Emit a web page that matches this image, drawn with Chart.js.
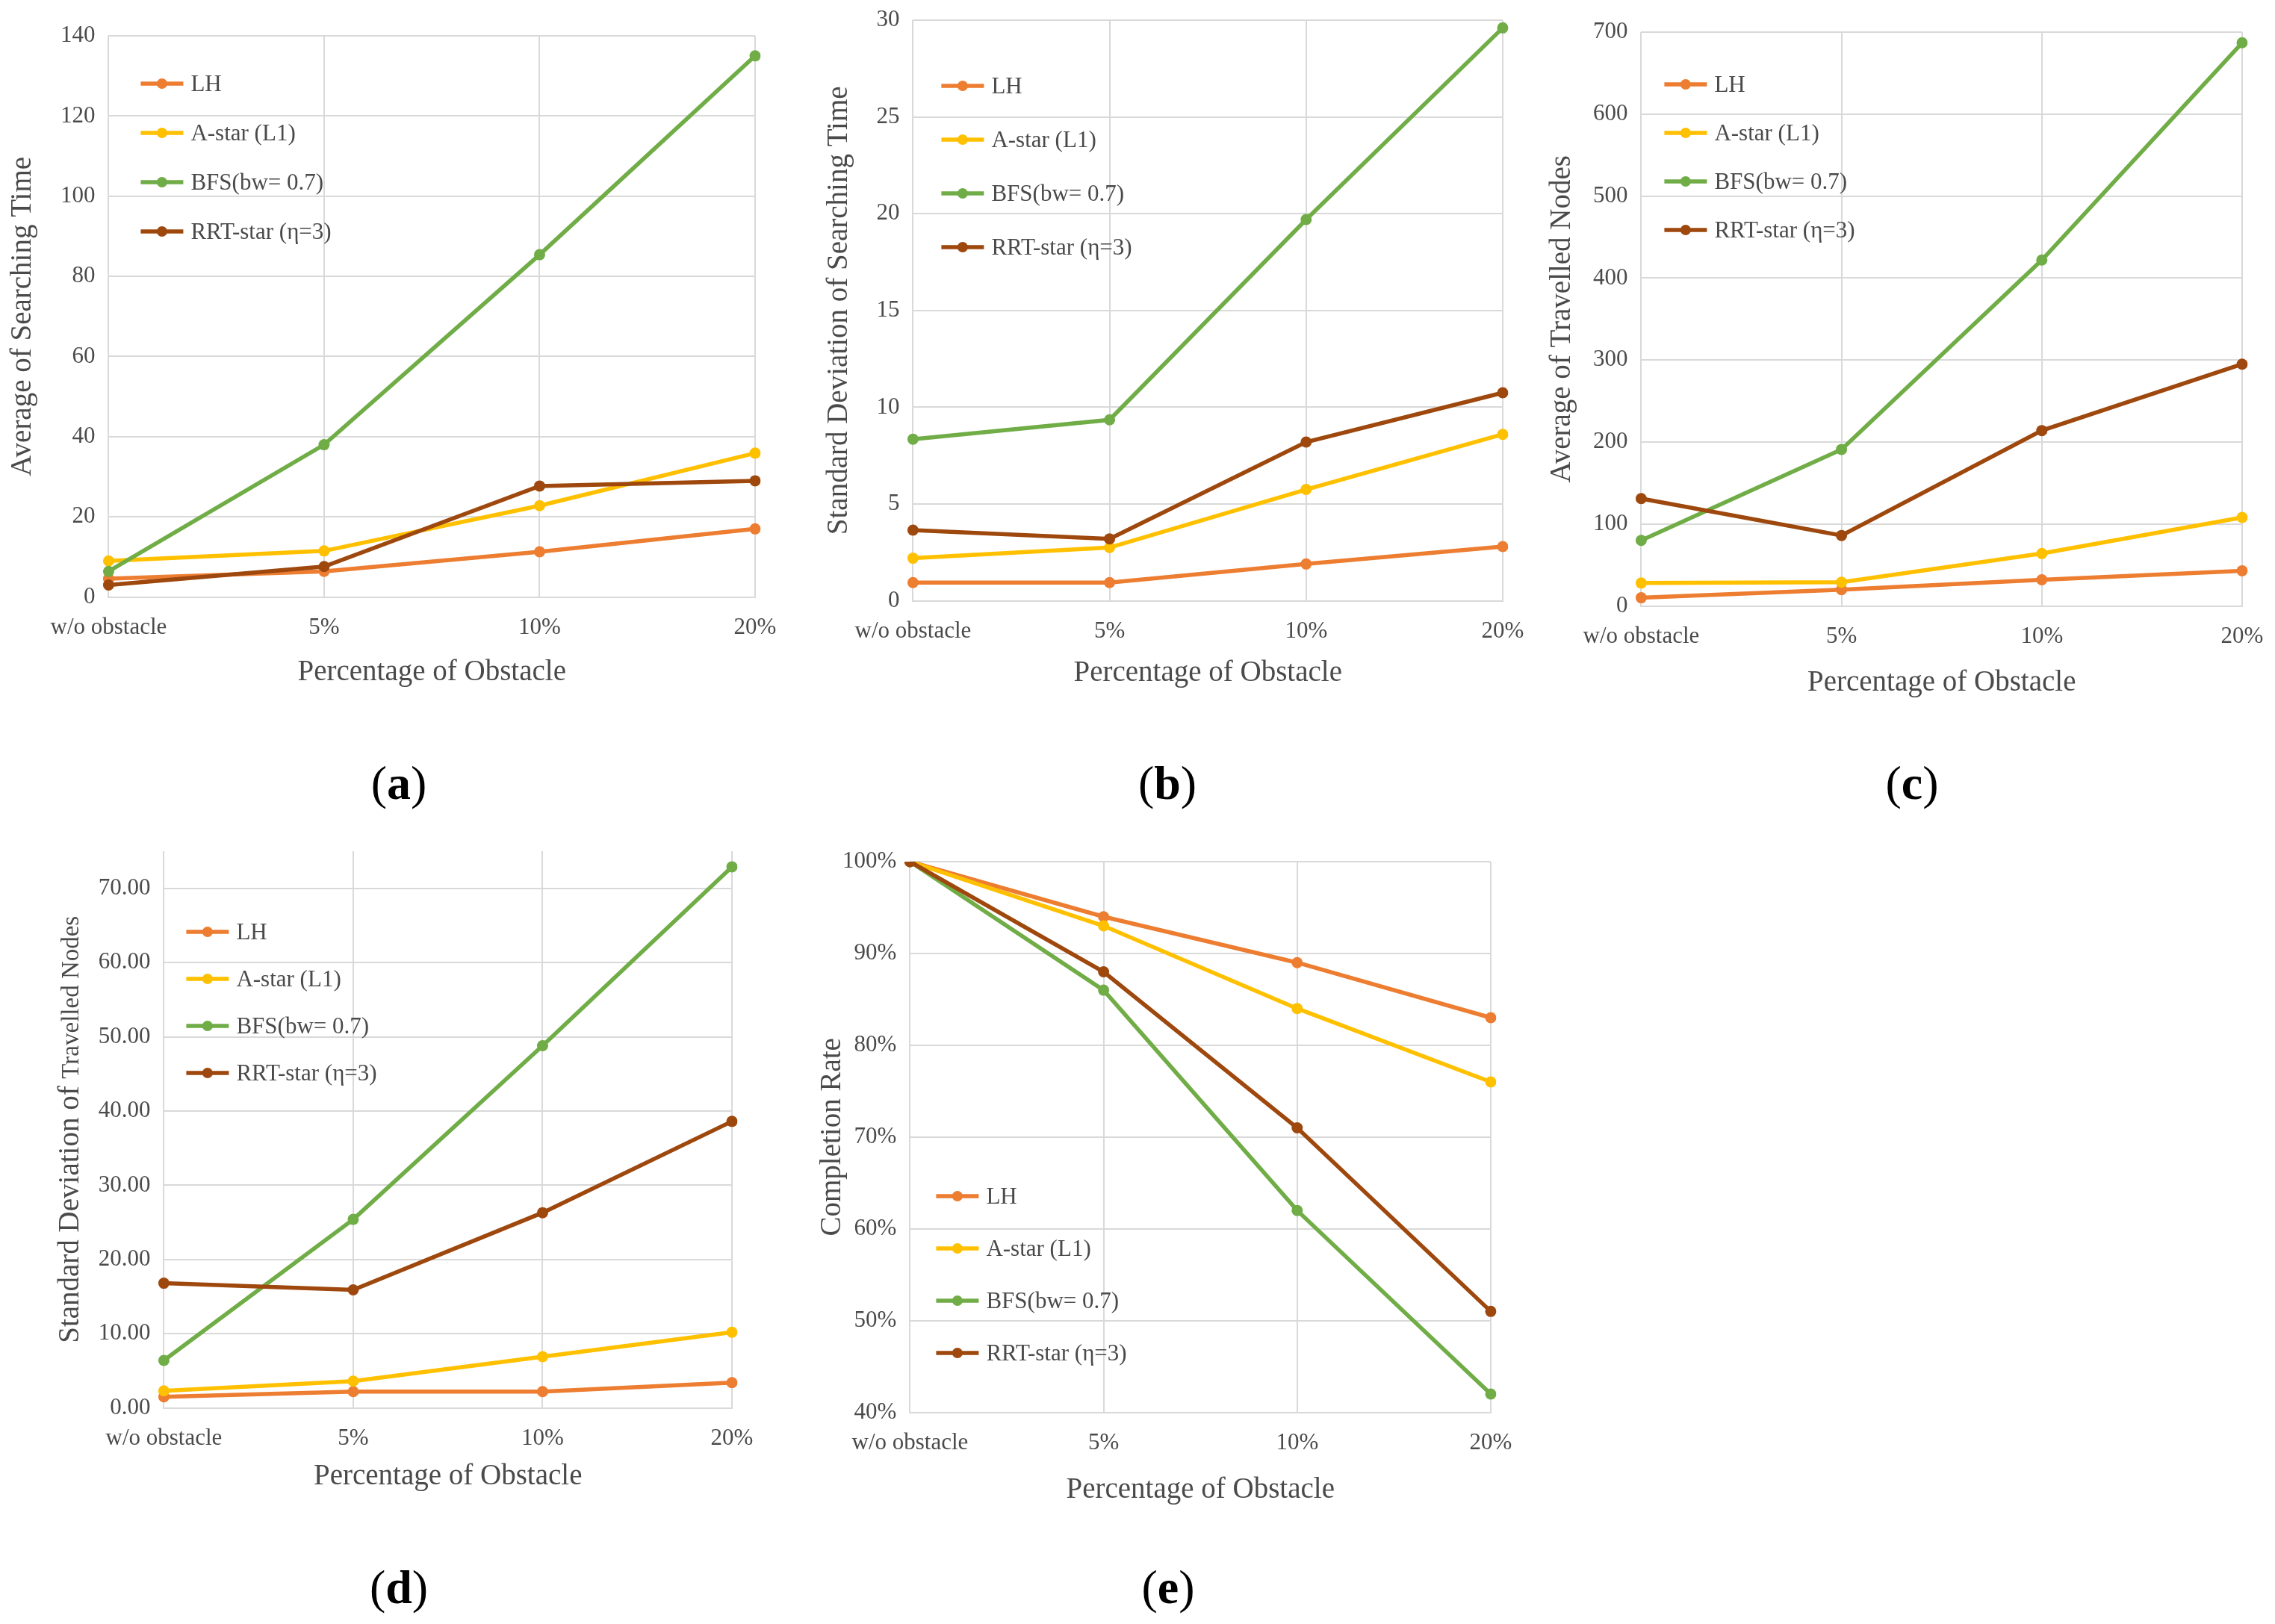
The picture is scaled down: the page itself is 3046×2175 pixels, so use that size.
<!DOCTYPE html>
<html>
<head>
<meta charset="utf-8">
<script src="https://cdn.jsdelivr.net/npm/chart.js@4.4.0/dist/chart.umd.min.js"></script>
<style>
body { margin: 0; background: #fff; width: 3046px; height: 2175px; position: relative; overflow: hidden; font-family: 'Liberation Serif', serif; }
canvas { position: absolute; }
.tag { position: absolute; font-size: 64px; line-height: 1; color: #000; transform: translate(-50%, -50%); }
</style>
</head>
<body>
<canvas id="chartA"></canvas>
<canvas id="chartB"></canvas>
<canvas id="chartC"></canvas>
<canvas id="chartD"></canvas>
<canvas id="chartE"></canvas>
<div class="tag" style="left:534px;top:1049px">(<b>a</b>)</div>
<div class="tag" style="left:1563px;top:1049px">(<b>b</b>)</div>
<div class="tag" style="left:2560px;top:1049px">(<b>c</b>)</div>
<div class="tag" style="left:534px;top:2126px">(<b>d</b>)</div>
<div class="tag" style="left:1564px;top:2126px">(<b>e</b>)</div>
<script>
// shared categories and series names
const categories = ['w/o obstacle', '5%', '10%', '20%'];
const seriesNames = ['LH', 'A-star (L1)', 'BFS(bw= 0.7)', 'RRT-star (η=3)'];

// (a) average of searching time
const searchTimeLH = [4.6, 6.4, 11.3, 17];
const searchTimeAstar = [9, 11.5, 22.8, 35.9];
const searchTimeBFS = [6.4, 38, 85.4, 135];
const searchTimeRRT = [3, 7.6, 27.7, 29];

// (b) standard deviation of searching time
const searchSdLH = [0.94, 0.94, 1.9, 2.8];
const searchSdAstar = [2.2, 2.75, 5.75, 8.6];
const searchSdBFS = [8.35, 9.35, 19.7, 29.6];
const searchSdRRT = [3.65, 3.2, 8.2, 10.75];

// (c) average of travelled nodes
const nodesLH = [10, 20, 32, 43];
const nodesAstar = [28, 29, 64, 108];
const nodesBFS = [80, 191, 422, 687];
const nodesRRT = [131, 86, 214, 295];

// (d) standard deviation of travelled nodes
const nodesSdLH = [1.5, 2.2, 2.2, 3.4];
const nodesSdAstar = [2.3, 3.6, 6.9, 10.2];
const nodesSdBFS = [6.4, 25.4, 48.8, 72.9];
const nodesSdRRT = [16.8, 15.9, 26.3, 38.6];

// (e) completion rate, percent
const completeLH = [100, 94, 89, 83];
const completeAstar = [100, 93, 84, 76];
const completeBFS = [100, 86, 62, 42];
const completeRRT = [100, 88, 71, 51];

// y axis ranges [min, max, step]
const rangeA = [0, 140, 20];
const rangeB = [0, 30, 5];
const rangeC = [0, 700, 100];
const rangeD = [0, 75, 10];
const rangeE = [40, 100, 10];

const colors = ['#ED7D31', '#FFC000', '#70AD47', '#9E480E'];
const textColor = '#4a4a4a';
const gridColor = '#D9D9D9';
const serif = "'Liberation Serif', serif";
const TITLE_SIZE = 39;
const TICK_SIZE = 31;
const TITLE_HALF = TITLE_SIZE * 1.2 / 2;
const PAD_TOP = 45;
const PAD_RIGHT = 60;

// legend drawn inside the plot area, Excel style
const insideLegend = {
    id: 'insideLegend',
    afterDatasetsDraw(chart, args, opts) {
        const { ctx, chartArea } = chart;
        ctx.save();
        ctx.font = TICK_SIZE + 'px ' + serif;
        ctx.textBaseline = 'middle';
        chart.data.datasets.forEach((ds, i) => {
            const x = chartArea.left + opts.dx;
            const y = chartArea.top + opts.dy + i * opts.gap;
            ctx.strokeStyle = ds.borderColor;
            ctx.lineWidth = 5.5;
            ctx.beginPath(); ctx.moveTo(x, y); ctx.lineTo(x + 57, y); ctx.stroke();
            ctx.fillStyle = ds.borderColor;
            ctx.beginPath(); ctx.arc(x + 28.5, y, 7, 0, Math.PI * 2); ctx.fill();
            ctx.fillStyle = textColor;
            ctx.fillText(ds.label, x + 67, y + 2);
        });
        ctx.restore();
    }
};

// y title made of parts with different sizes (panel d)
const splitTitle = {
    id: 'splitTitle',
    afterDraw(chart, args, opts) {
        if (!opts.parts) return;
        const { ctx, chartArea } = chart;
        const cy = (chartArea.top + chartArea.bottom) / 2;
        ctx.save();
        ctx.translate(opts.x, cy);
        ctx.rotate(-Math.PI / 2);
        ctx.fillStyle = textColor;
        ctx.textBaseline = 'alphabetic';
        let total = 0;
        opts.parts.forEach(p => { ctx.font = p.size + 'px ' + serif; total += ctx.measureText(p.text).width; });
        let x = -total / 2;
        opts.parts.forEach(p => {
            ctx.font = p.size + 'px ' + serif;
            ctx.fillText(p.text, x, TITLE_SIZE * 0.33);
            x += ctx.measureText(p.text).width;
        });
        ctx.restore();
    }
};

function buildChart(id, geo, series, range, yTitle, tickFmt, legendPos, parts) {
    const canvas = document.getElementById(id);
    const left = geo.titleX - TITLE_HALF;
    const top = geo.T - PAD_TOP;
    const right = geo.R + PAD_RIGHT;
    const bottom = geo.xTitleY + TITLE_HALF;
    canvas.width = right - left;
    canvas.height = bottom - top;
    canvas.style.left = left + 'px';
    canvas.style.top = top + 'px';
    const yWidth = geo.L - left;
    const xHeight = bottom - geo.B;

    new Chart(canvas.getContext('2d'), {
        type: 'line',
        data: {
            labels: categories,
            datasets: series.map((vals, i) => ({
                label: seriesNames[i],
                data: vals,
                borderColor: colors[i],
                backgroundColor: colors[i],
                borderWidth: 5.5,
                pointRadius: 7.5,
                pointBorderWidth: 0,
                tension: 0,
                order: 3 - i
            }))
        },
        options: {
            responsive: false,
            animation: false,
            devicePixelRatio: 1,
            layout: { padding: { top: PAD_TOP, right: PAD_RIGHT, left: 0, bottom: 0 } },
            plugins: {
                legend: { display: false },
                tooltip: { enabled: false },
                insideLegend: legendPos,
                splitTitle: { parts: parts, x: geo.titleX - left }
            },
            scales: {
                x: {
                    grid: { color: gridColor, lineWidth: 2, drawTicks: false },
                    border: { display: true, color: gridColor, width: 2 },
                    ticks: { color: textColor, padding: 23, maxRotation: 0, font: { family: serif, size: TICK_SIZE } },
                    title: { display: true, text: 'Percentage of Obstacle', color: textColor, padding: 0, font: { family: serif, size: TITLE_SIZE } },
                    afterFit: s => { s.height = xHeight; }
                },
                y: {
                    min: range[0],
                    max: range[1],
                    grid: { color: gridColor, lineWidth: 2, drawTicks: false },
                    border: { display: false },
                    ticks: { stepSize: range[2], includeBounds: false, color: textColor, padding: 18, font: { family: serif, size: TICK_SIZE }, callback: tickFmt },
                    title: { display: !parts, text: yTitle, color: textColor, padding: 0, font: { family: serif, size: TITLE_SIZE } },
                    afterFit: s => { s.width = yWidth; }
                }
            }
        },
        plugins: [insideLegend, splitTitle]
    });
}

const plain = v => v;

buildChart('chartA', { L: 145, T: 48, R: 1011, B: 800, titleX: 30, xTitleY: 901 },
    [searchTimeLH, searchTimeAstar, searchTimeBFS, searchTimeRRT], rangeA,
    'Average of Searching Time', plain, { dx: 43, dy: 64, gap: 66 });

buildChart('chartB', { L: 1222, T: 27, R: 2012, B: 805, titleX: 1123, xTitleY: 902 },
    [searchSdLH, searchSdAstar, searchSdBFS, searchSdRRT], rangeB,
    'Standard Deviation of Searching Time', plain, { dx: 38, dy: 88, gap: 72 });

buildChart('chartC', { L: 2197, T: 43, R: 3002, B: 812, titleX: 2091, xTitleY: 915 },
    [nodesLH, nodesAstar, nodesBFS, nodesRRT], rangeC,
    'Average of Travelled Nodes', plain, { dx: 31, dy: 70, gap: 65 });

buildChart('chartD', { L: 219, T: 1140, R: 980, B: 1886, titleX: 92, xTitleY: 1978 },
    [nodesSdLH, nodesSdAstar, nodesSdBFS, nodesSdRRT], rangeD,
    'Standard Deviation of Travelled Nodes', v => v.toFixed(2), { dx: 30, dy: 108, gap: 63 },
    [{ text: 'Standard Deviation of ', size: 39 }, { text: 'Travelled Nodes', size: 33 }]);

buildChart('chartE', { L: 1218, T: 1154, R: 1996, B: 1892, titleX: 1114, xTitleY: 1996 },
    [completeLH, completeAstar, completeBFS, completeRRT], rangeE,
    'Completion Rate', v => v + '%', { dx: 35, dy: 448, gap: 70 });
</script>
</body>
</html>
